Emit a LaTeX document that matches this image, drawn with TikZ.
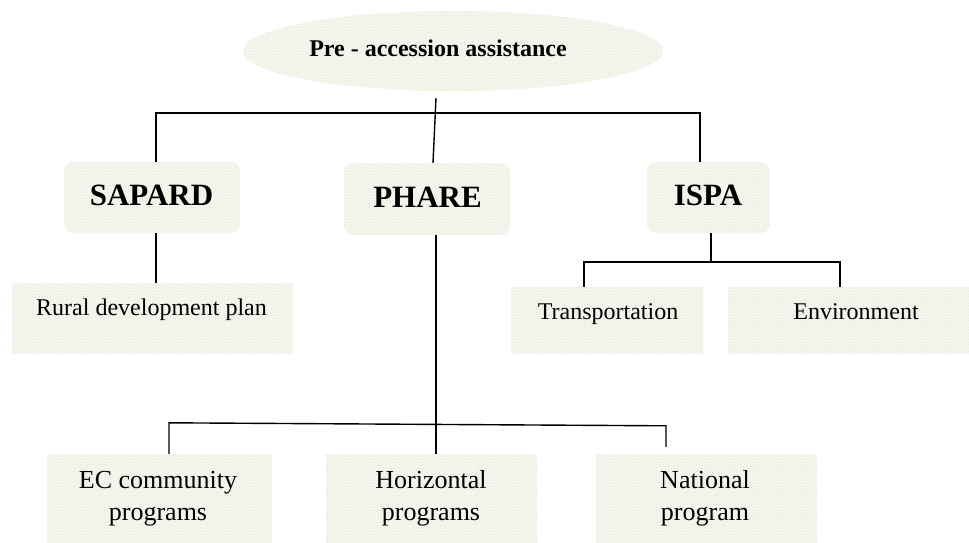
\documentclass[tikz,border=0pt]{standalone}
\usepackage{fontspec}
\setmainfont{Liberation Serif}
\usetikzlibrary{patterns,shapes.geometric}
\definecolor{boxfill}{RGB}{251,252,247}
\definecolor{patcol}{RGB}{236,239,224}
\begin{document}
\begin{tikzpicture}[x=1pt,y=-1pt,
  box/.style={draw=none, fill=boxfill, postaction={pattern=crosshatch, pattern color=patcol}, inner sep=0pt},
  rbox/.style={box, rounded corners=9pt},
  conn/.style={line width=1.4pt, black},
  bigt/.style={font=\fontsize{31}{36}\selectfont\bfseries, inner sep=0pt, anchor=base},
  midt/.style={font=\fontsize{24}{28}\selectfont\bfseries, inner sep=0pt, anchor=base},
  txt/.style={font=\fontsize{24}{28}\selectfont, inner sep=0pt, anchor=base},
  btxt/.style={font=\fontsize{26}{30}\selectfont, inner sep=0pt, anchor=base}]
\useasboundingbox (0,0) rectangle (969,543);
% shapes
\node[box, ellipse, minimum width=420pt, minimum height=80pt] (ell) at (453,51) {};
\node[rbox, minimum width=176pt, minimum height=71pt] (sapard) at (152,197.5) {};
\node[rbox, minimum width=166pt, minimum height=72pt] (phare) at (427,199) {};
\node[rbox, minimum width=123pt, minimum height=71pt] (ispa) at (708.5,197.5) {};
\node[box, minimum width=281pt, minimum height=70pt] (rural) at (152.5,318) {};
\node[box, minimum width=192pt, minimum height=66pt] (transp) at (607,320) {};
\node[box, minimum width=241pt, minimum height=66pt] (env) at (848.5,320) {};
\node[box, minimum width=225pt, minimum height=89pt] (ec) at (159.5,498.5) {};
\node[box, minimum width=211pt, minimum height=89pt] (horiz) at (431.5,498.5) {};
\node[box, minimum width=221pt, minimum height=89pt] (national) at (706.5,498.5) {};
% texts
\node[midt] (tpre) at (438,57) {Pre - accession assistance};
\node[bigt] (tsap) at (151.5,205) {SAPARD};
\node[bigt] (tpha) at (427.5,207) {PHARE};
\node[bigt] (tisp) at (708,205) {ISPA};
\node[txt] (trur) at (151.5,315) {Rural development plan};
\node[txt] (ttra) at (608,319) {Transportation};
\node[txt] (tenv) at (856,319) {Environment};
\node[btxt] (tec1) at (158,488) {EC community};
\node[btxt] (tec2) at (158,520) {programs};
\node[btxt] (tho1) at (431,488) {Horizontal};
\node[btxt] (tho2) at (431,520) {programs};
\node[btxt] (tna1) at (705,488) {National};
\node[btxt] (tna2) at (705,520) {program};
% connectors
\draw[conn] ([xshift=4pt]sapard.north) -- ++(0,-49) -| ([xshift=-8.5pt]ispa.north);
\draw[conn] ([xshift=-17pt,yshift=-7pt]ell.south) -- ([xshift=6pt]phare.north);
\draw[conn] ([xshift=4pt]sapard.south) -- ([xshift=3.5pt]rural.north);
\draw[conn] ([xshift=2.5pt]ispa.south) -- ++(0,29);
\draw[conn] ([xshift=-23pt]transp.north) -- ++(0,-25) -| ([xshift=-8.5pt]env.north);
\draw[conn] ([xshift=9pt]phare.south) -- ([xshift=4.5pt]horiz.north);
\draw[conn] ([xshift=9.5pt]ec.north) -- ++(0,-31) -- ([xshift=-40.5pt,yshift=28pt]national.north) -- ++(0,21);
\end{tikzpicture}
\end{document}
